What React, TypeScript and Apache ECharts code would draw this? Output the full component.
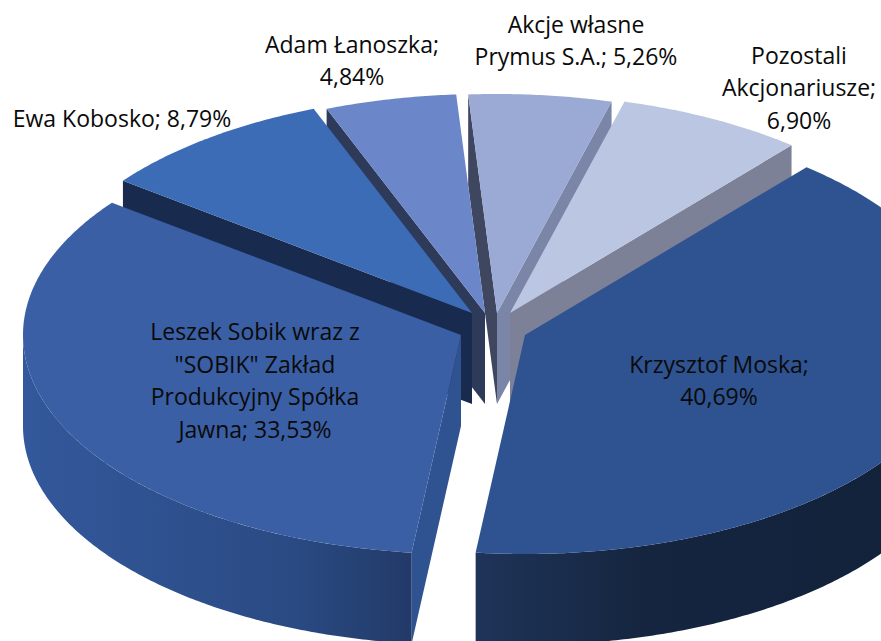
import React, { useEffect, useRef } from "react";
import * as echarts from "echarts";

const categories = [
  "Krzysztof Moska",
  "Leszek Sobik wraz z \"SOBIK\" Zakład Produkcyjny Spółka Jawna",
  "Ewa Kobosko",
  "Adam Łanoszka",
  "Akcje własne Prymus S.A.",
  "Pozostali Akcjonariusze",
];
const shares = [40.69, 33.53, 8.79, 4.84, 5.26, 6.9];
const labelTexts = [
  "Krzysztof Moska;\n40,69%",
  "Leszek Sobik wraz z\n\"SOBIK\" Zakład\nProdukcyjny Spółka\nJawna; 33,53%",
  "Ewa Kobosko; 8,79%",
  "Adam Łanoszka;\n4,84%",
  "Akcje własne\nPrymus S.A.; 5,26%",
  "Pozostali\nAkcjonariusze;\n6,90%",
];

// Layout and styling of the exploded 3D pie
const RX = 438;
const RY = 219;
const DEPTH = 91;
const START_ANGLE = 40;
const apexes = [[525, 335], [461, 335], [472, 313], [485, 313], [497, 313], [510, 313]];
const labelCentres = [[719, 380], [255, 380], [122, 118], [352, 60], [576, 40], [799, 87]];
const drawOrder = [6, 5, 3, 2, 1, 2.5];
const faceColors = ["#2f5290", "#3a5fa5", "#3d6cb6", "#6b86c9", "#9aaad5", "#bac6e2"];
const startWallColors = ["#2f5290", "#2f5290", "#182b4f", "#2e3a5a", "#3e4660", "#bac6e2"];
const endWallColors = ["#2f5290", "#2f5290", "#3d6cb6", "#6b86c9", "#7a85a8", "#7d8197"];
const rimStops: any[] = [
  [[0, "#1e3459"], [0.35, "#15253f"], [1, "#13213a"]],
  [[0, "#33589b"], [0.3, "#2f5291"], [0.7, "#2a4a83"], [1, "#223a68"]],
  [[0, "#182b4f"], [1, "#182b4f"]],
  [[0, "#2e3a5a"], [1, "#2e3a5a"]],
  [[0, "#7a85a8"], [1, "#7a85a8"]],
  [[0, "#7d8197"], [1, "#7d8197"]],
];

const total = shares.reduce((s, v) => s + v, 0);

function App() {
  const ref = useRef<HTMLDivElement>(null);
  useEffect(() => {
    const chart = echarts.init(ref.current as HTMLDivElement, undefined, { renderer: "svg" });
    const at = (c: number[], deg: number, drop = 0) => {
      const a = (deg * Math.PI) / 180;
      return [c[0] + RX * Math.sin(a), c[1] - RY * Math.cos(a) + drop];
    };
    const arc = (c: number[], a0: number, a1: number, drop = 0) => {
      const n = Math.max(2, Math.ceil(Math.abs(a1 - a0) * 2));
      const pts: number[][] = [];
      for (let k = 0; k <= n; k++) pts.push(at(c, a0 + ((a1 - a0) * k) / n, drop));
      return pts;
    };
    const renderItem = (params: any, api: any) => {
      const i = params.dataIndex;
      const before = shares.slice(0, i).reduce((s, v) => s + v, 0);
      const a0 = START_ANGLE + (before / total) * 360;
      const a1 = a0 + (api.value(0) / total) * 360;
      const c = apexes[i];
      const z = drawOrder[i] * 10;
      const down = [c[0], c[1] + DEPTH];
      const children: any[] = [];
      const radialWall = (deg: number, fill: string) => {
        children.push({
          type: "polygon",
          shape: { points: [c, at(c, deg), at(c, deg, DEPTH), down] },
          style: { fill },
          z2: z + 1,
          silent: true,
        });
      };
      // a radial wall is drawn only when its outward side faces the viewer
      if (Math.sin((a0 * Math.PI) / 180) < 0) radialWall(a0, startWallColors[i]);
      if (Math.sin((a1 * Math.PI) / 180) > 0) radialWall(a1, endWallColors[i]);
      const lo = Math.max(a0, 90);
      const hi = Math.min(a1, 270);
      if (hi > lo) {
        const top = arc(c, lo, hi);
        const bottom = arc(c, hi, lo, DEPTH);
        children.push({
          type: "polygon",
          shape: { points: top.concat(bottom) },
          style: {
            fill: new echarts.graphic.LinearGradient(
              0, 0, 1, 0,
              rimStops[i].map(([offset, color]: any) => ({ offset, color }))
            ),
          },
          z2: z + 2,
          silent: true,
        });
      }
      children.push({
        type: "polygon",
        shape: { points: [c].concat(arc(c, a0, a1)) },
        style: { fill: faceColors[i] },
        z2: z + 3,
        silent: true,
      });
      children.push({
        type: "text",
        x: labelCentres[i][0],
        y: labelCentres[i][1],
        style: {
          text: labelTexts[i],
          fill: "#0a0a0a",
          fontSize: 23,
          fontFamily: "Open Sans",
          lineHeight: 32.5,
          align: "center",
          verticalAlign: "middle",
        },
        z2: 500,
        silent: true,
      });
      return { type: "group", children };
    };
    chart.setOption({
      animation: false,
      backgroundColor: "#ffffff",
      series: [
        {
          type: "custom",
          coordinateSystem: "none",
          renderItem,
          clip: false,
          data: shares.map((v, i) => ({ name: categories[i], value: [v] })),
        },
      ],
    });
    return () => chart.dispose();
  }, []);
  return <div ref={ref} style={{ position: "absolute", left: 0, top: 0, width: 881, height: 641 }} />;
}

export default App;
